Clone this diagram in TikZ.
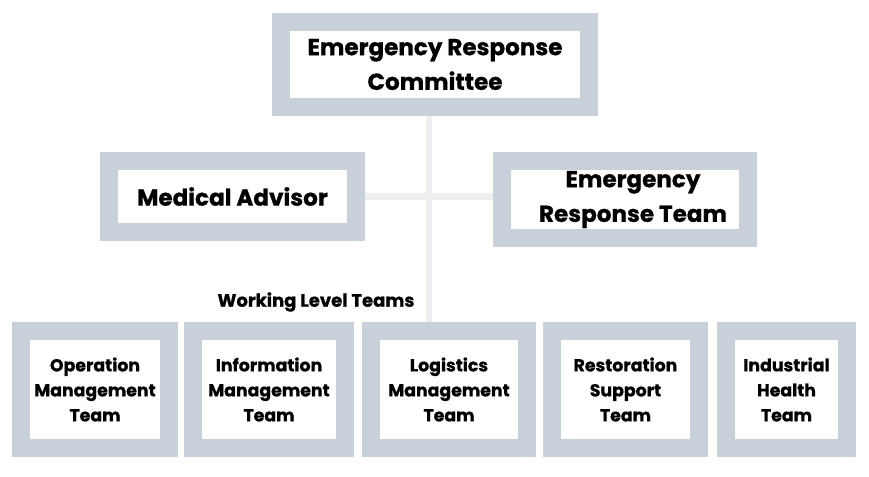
\documentclass[tikz,border=0pt]{standalone}
\usepackage{fontspec}
\setmainfont{Poppins}[BoldFeatures={FakeBold=0.8}]
\usetikzlibrary{positioning}
\definecolor{framegray}{HTML}{C8D0D9}
\definecolor{wiregray}{HTML}{EDEEF0}
\tikzset{
  unit/.style 2 args={draw=framegray,line width=13.5pt,fill=white,
    minimum width=(#1-18)*0.75pt,minimum height=(#2-18)*0.75pt,
    inner sep=0pt,align=center},
  big/.style={font=\fontsize{17.3}{26}\selectfont\bfseries},
  small/.style={font=\fontsize{13}{18.75}\selectfont\bfseries},
  wire/.style={draw=wiregray,line width=4.8pt}
}
\begin{document}
\begin{tikzpicture}[x=0.75pt,y=-0.75pt]
  \useasboundingbox (0,0) rectangle (869,476);
  % upper levels
  \node[unit={326}{103},big](erc) at (435,64.5){Emergency Response\\Committee};
  \node[unit={265}{89},big](med) at (232.5,196.5){Medical Advisor};
  \node[unit={264}{95},big](ert) at (625,199.5){\hspace*{12pt}Emergency\\\hspace*{12pt}Response Team};
  % working level
  \node[unit={166}{135},small](ops) at (95,389.5){Operation\\Management\\Team};
  \node[unit={170}{135},small,right=4.5pt of ops](info){Information\\Management\\Team};
  \node[unit={174}{135},small,right=6pt of info](logi){Logistics\\Management\\Team};
  \node[unit={165}{135},small,right=5.25pt of logi](rest){Restoration\\Support\\Team};
  \node[unit={139}{135},small,right=6.75pt of rest](ind){Industrial\\Health\\Team};
  \node[font=\fontsize{13.5}{16}\selectfont\bfseries](wlt) at (316,302){Working Level Teams};
  %
  \coordinate (hub) at (429,196.5);
  \draw[wire] (erc.south -| hub) -- (hub |- logi.north);
  \draw[wire] (med.east) -- (med.east -| ert.west);
\end{tikzpicture}
\end{document}
